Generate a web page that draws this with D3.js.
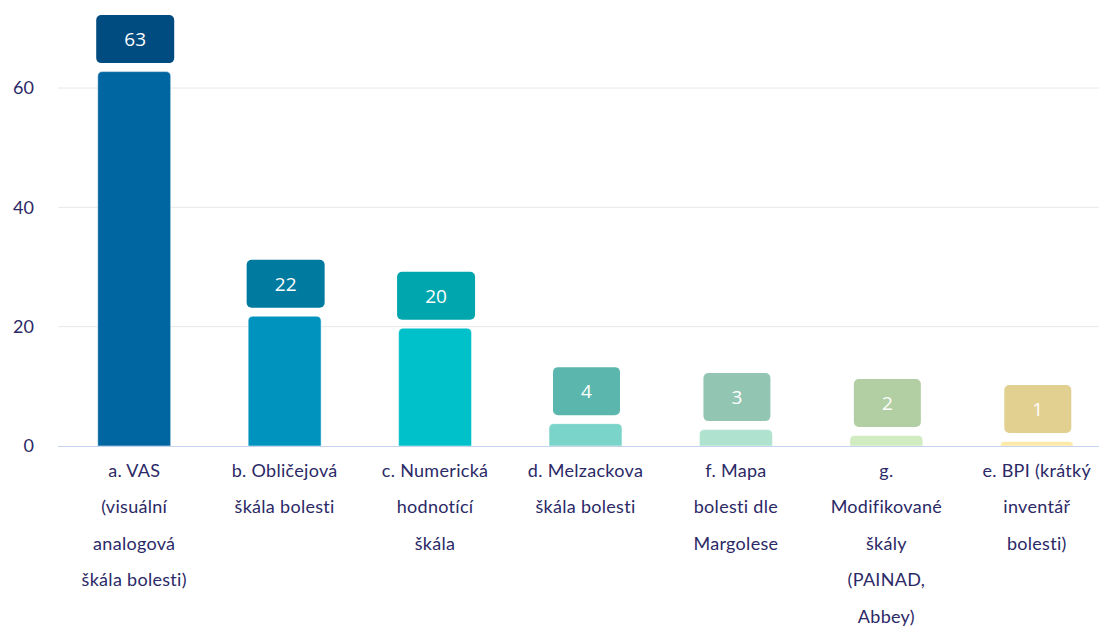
<!DOCTYPE html>
<html>
<head>
<meta charset="utf-8">
<script src="https://cdn.jsdelivr.net/npm/d3@7"></script>
<style>
  body { margin: 0; background: #fff; }
  svg { display: block; }
</style>
</head>
<body>
<svg width="1099" height="628"></svg>
<script>
var categories = [
  "a. VAS\n(visuální\nanalogová\nškála bolesti)",
  "b. Obličejová\nškála bolesti",
  "c. Numerická\nhodnotící\nškála",
  "d. Melzackova\nškála bolesti",
  "f. Mapa\nbolesti dle\nMargolese",
  "g.\nModifikované\nškály\n(PAINAD,\nAbbey)",
  "e. BPI (krátký\ninventář\nbolesti)"
];
var values = [63, 22, 20, 4, 3, 2, 1];
var yTicks = [0, 20, 40, 60];
var barColors = ["#0066a1", "#0093bd", "#00c1c9", "#7ad4c9", "#b0e3cf", "#d0ecc0", "#fdeaa8"];
var boxColors = ["#004b80", "#007a9e", "#00a6ae", "#5bb7ad", "#93c6b2", "#b2cea3", "#e2d091"];

var svg = d3.select("svg"),
  width = +svg.attr("width"),
  height = +svg.attr("height");

var left = 59, right = 1112, baseY = 446;
var textColor = "#2b2966";

var x = d3.scaleBand()
  .domain(categories)
  .range([left, right])
  .paddingInner(0.515)
  .paddingOuter(0.2575);

var y = d3.scaleLinear()
  .domain([0, 60])
  .range([baseY, 88]);

// grid
svg.append("g")
  .selectAll("line")
  .data(yTicks.filter(function (d) { return d > 0; }))
  .enter()
  .append("line")
  .attr("x1", 58)
  .attr("x2", width)
  .attr("y1", function (d) { return y(d); })
  .attr("y2", function (d) { return y(d); })
  .attr("stroke", "#e8e8ec")
  .attr("stroke-width", 1);

// y tick labels
svg.append("g")
  .selectAll("text")
  .data(yTicks)
  .enter()
  .append("text")
  .attr("x", 34)
  .attr("y", function (d) { return y(d); })
  .attr("dy", "0.35em")
  .attr("text-anchor", "end")
  .attr("fill", textColor)
  .style("font-family", "Lato, 'Open Sans', sans-serif")
  .style("font-size", "18px")
  .text(function (d) { return d; });

// bars: rounded top, square bottom
function barPath(x0, y0, w, h, r) {
  r = Math.min(r, h);
  return "M" + x0 + "," + (y0 + h) +
    "V" + (y0 + r) +
    "Q" + x0 + "," + y0 + " " + (x0 + r) + "," + y0 +
    "H" + (x0 + w - r) +
    "Q" + (x0 + w) + "," + y0 + " " + (x0 + w) + "," + (y0 + r) +
    "V" + (y0 + h) + "Z";
}

svg.append("g")
  .selectAll("path")
  .data(values)
  .enter()
  .append("path")
  .attr("d", function (d, i) {
    var yt = y(d) + 1.5;
    return barPath(x(categories[i]), yt, x.bandwidth(), baseY - yt, 5);
  })
  .attr("fill", function (d, i) { return barColors[i]; })
  .attr("stroke", "#ffffff")
  .attr("stroke-opacity", 0.5)
  .attr("stroke-width", 1);

// baseline
svg.append("line")
  .attr("x1", 58)
  .attr("x2", width)
  .attr("y1", baseY + 0.5)
  .attr("y2", baseY + 0.5)
  .attr("stroke", "#c6d3ee")
  .attr("stroke-width", 1);

// value boxes
var boxes = svg.append("g")
  .selectAll("g")
  .data(values)
  .enter()
  .append("g")
  .attr("transform", function (d, i) {
    return "translate(" + (x(categories[i]) + x.bandwidth() / 2 + 1) + "," + (y(d) - 7) + ")";
  });

boxes.append("rect")
  .attr("x", function (d) { return String(d).length > 1 ? -39 : -33.5; })
  .attr("y", -48)
  .attr("width", function (d) { return String(d).length > 1 ? 78 : 67; })
  .attr("height", 48)
  .attr("rx", 5)
  .attr("fill", function (d, i) { return boxColors[i]; });

boxes.append("text")
  .attr("y", -24)
  .attr("dy", "0.36em")
  .attr("text-anchor", "middle")
  .attr("fill", "#ffffff")
  .style("font-family", "'Open Sans', sans-serif")
  .style("font-size", "19px")
  .text(function (d) { return d; });

// x labels
var xl = svg.append("g")
  .selectAll("text")
  .data(categories)
  .enter()
  .append("text")
  .attr("x", function (d) { return x(d) + x.bandwidth() / 2; })
  .attr("y", 477)
  .attr("text-anchor", "middle")
  .attr("fill", textColor)
  .style("font-family", "Lato, 'Open Sans', sans-serif")
  .style("font-size", "18px")
  .style("letter-spacing", "0.3px");

xl.selectAll("tspan")
  .data(function (d) { return d.split("\n"); })
  .enter()
  .append("tspan")
  .attr("x", function () { return d3.select(this.parentNode).attr("x"); })
  .attr("dy", function (d, i) { return i === 0 ? 0 : 36.4; })
  .text(function (d) { return d; });
</script>
</body>
</html>
